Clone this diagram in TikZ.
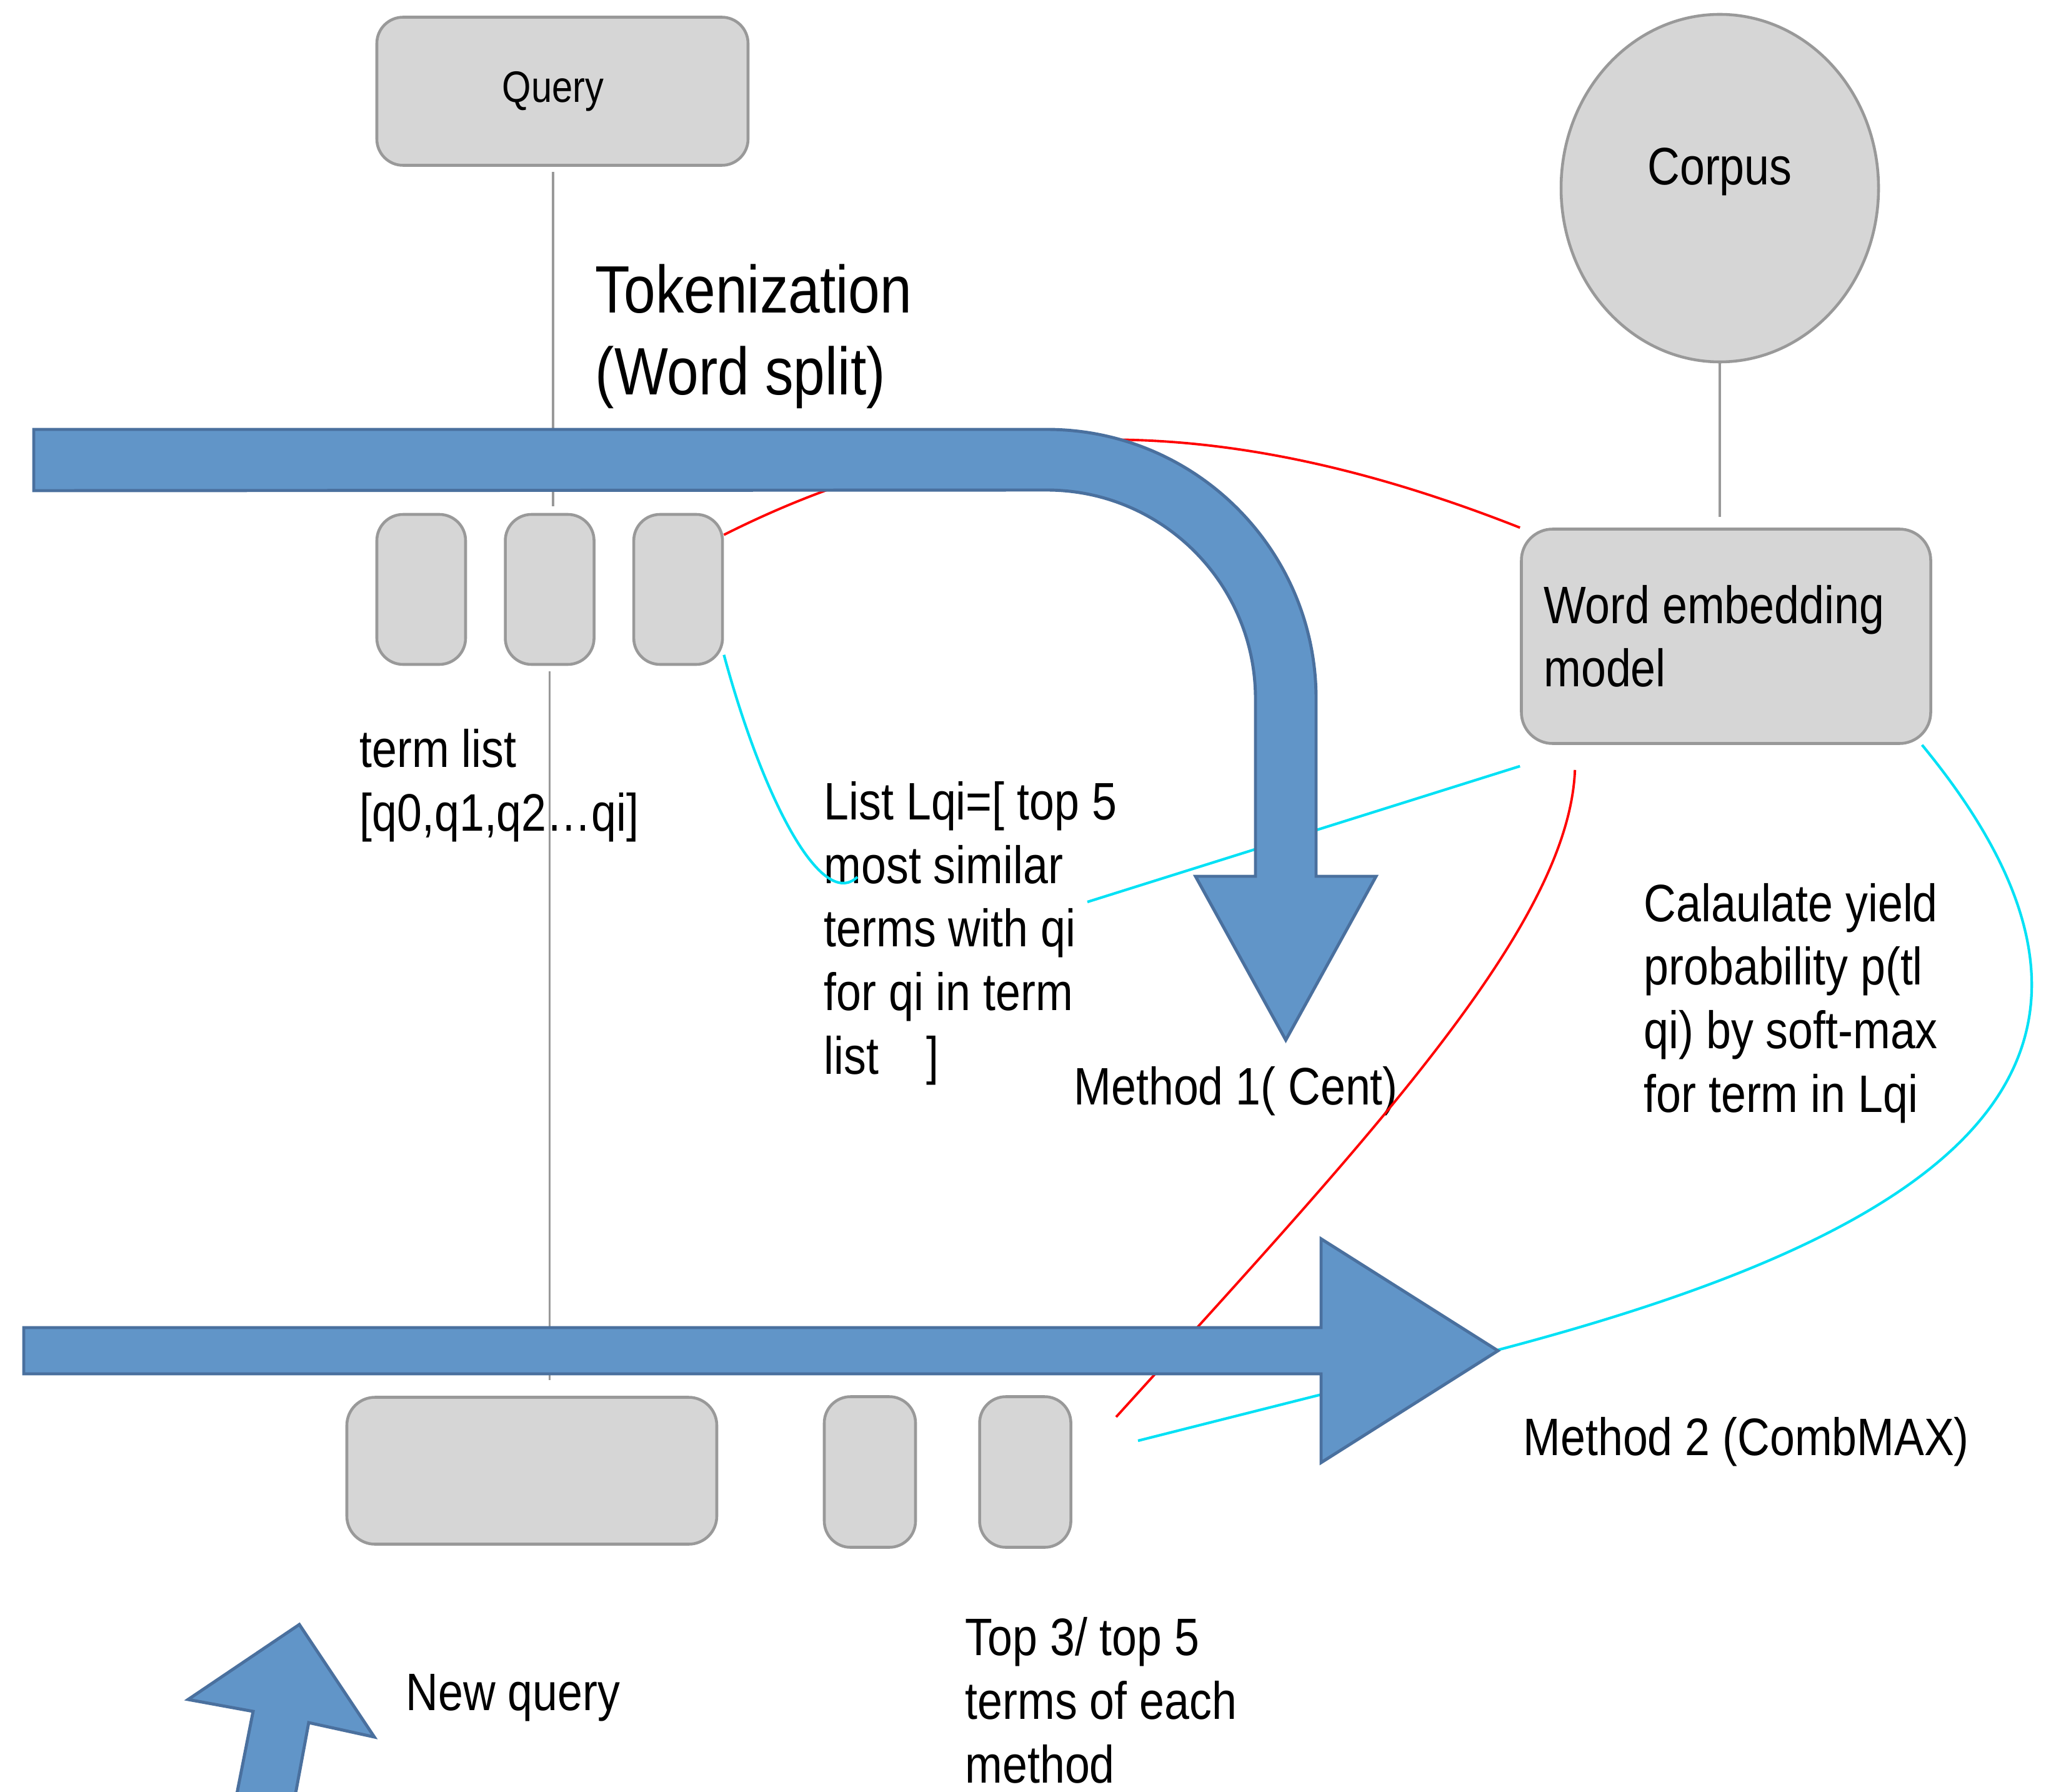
\documentclass[tikz,border=0pt]{standalone}
\usepackage{fontspec}
\setmainfont{Liberation Sans}[FakeStretch=0.85]
\usetikzlibrary{positioning,shapes.geometric}

\definecolor{boxgray}{HTML}{D6D6D6}
\definecolor{edgegray}{HTML}{999999}
\definecolor{arrowblue}{HTML}{6195C8}
\definecolor{arrowedge}{HTML}{4A709E}
\definecolor{linkcyan}{HTML}{00E1F5}

\begin{document}
\begin{tikzpicture}
	\tikzset{
		gbox/.style={draw=edgegray,fill=boxgray,line width=1.3pt,rounded corners=0.42cm,inner sep=0pt},
		term/.style={gbox,minimum width=1.42cm,minimum height=2.4cm},
		txt/.style={font=\fontsize{24}{28.9}\selectfont,inner sep=0pt,anchor=base west,align=left},
		glink/.style={draw=edgegray,line width=0.9pt},
		redlink/.style={draw=red,line width=1.1pt},
		cyanlink/.style={draw=linkcyan,line width=1.2pt},
		bigarrow/.style={fill=arrowblue,draw=arrowedge,line width=1.4pt,line join=miter}
	}
	\useasboundingbox (0,0) rectangle (32.82,-28.67);
	\node[gbox,minimum width=5.94cm,minimum height=2.37cm,font=\fontsize{20}{24}\selectfont] (query) at (9.00,-1.46) {Query\hspace*{0.3cm}};
	\node[gbox,ellipse,minimum width=5.08cm,minimum height=5.56cm,label={[txt,anchor=base,yshift=0.26cm]center:Corpus}] (corpus) at (27.52,-3.01) {};
	\node[txt,font=\fontsize{30.5}{37.4}\selectfont] (tok) at (9.52,-6.32) {Tokenization\\(Word split)};
	\node[term] (t1) at (6.74,-9.43) {};
	\node[term,right=0.59cm of t1] (t2) {};
	\node[term,right=0.59cm of t2] (t3) {};
	\node[gbox,rounded corners=0.5cm,minimum width=6.55cm,minimum height=3.43cm,text width=5.83cm,align=flush left,font=\fontsize{24}{28.9}\selectfont] (wem) at (27.62,-10.18) {Word embedding\\model};
	\node[txt] (terms) at (5.75,-13.29) {term list\\{}[q0,q1,q2…qi]};
	\node[txt] (lqi) at (13.18,-17.18) {List Lqi=[ top 5\\most similar\\terms with qi\\for qi in term\\list\hspace{0.9em}]};
	\node[txt] (calc) at (26.30,-17.79) {Calaulate yield\\probability p(tl\\qi) by soft-max\\for term in Lqi};
	\node[txt] (m1) at (17.18,-17.67) {Method 1( Cent)};
	\node[txt] (m2) at (24.37,-23.28) {Method 2 (CombMAX)};
	\node[gbox,rounded corners=0.45cm,minimum width=5.92cm,minimum height=2.35cm] (nq) at (8.51,-23.53) {};
	\node[term,minimum width=1.46cm,minimum height=2.41cm] (b1) at (13.92,-23.55) {};
	\node[term,minimum width=1.46cm,minimum height=2.41cm,right=0.98cm of b1] (b2) {};
	\node[txt] (top) at (15.44,-28.52) {Top 3/ top 5\\terms of each\\method};
	\node[txt] (newq) at (6.49,-27.36) {New query};

	\coordinate (c1) at (13.72,-14.03);
	\coordinate (c2) at (17.40,-14.43);
	\coordinate (r2) at (17.86,-22.67);
	\coordinate (c3) at (18.21,-23.05);

	\draw[glink,shorten <=0.08cm,shorten >=0.11cm] ([xshift=-0.15cm]query.south) -- ([xshift=-0.15cm]query.south |- t2.north);
	\draw[glink,shorten <=0.09cm,shorten >=0.25cm] (t2.south) -- (t2.south |- nq.north);
	\draw[glink,shorten >=0.17cm] (corpus.south) -- (corpus.south |- wem.north);
	\draw[redlink] (t3.50) .. controls (15.53,-6.57) and (19.45,-6.52) .. (wem.north west);
	\draw[redlink] ([xshift=0.88cm,yshift=-0.4cm]wem.south west) .. controls +(-0.1,-2.5) and (21.88,-18.23) .. (r2);
	\draw[cyanlink] (t3.-55) .. controls (12.20,-12.75) and (13.14,-14.58) .. (c1);
	\draw[cyanlink] (c2) -- ([yshift=-0.34cm]wem.south west);
	\draw[cyanlink] (wem.-29) .. controls (35.14,-17.24) and (30.73,-19.82) .. (23.96,-21.60) -- (c3);

	\draw[bigarrow] (0.54,-6.87) -- (16.75,-6.87) arc[start angle=90,end angle=0,radius=4.31]
		-- (21.06,-14.02) -- (22.02,-14.02) -- (20.575,-16.64) -- (19.13,-14.02) -- (20.09,-14.02)
		-- (20.09,-11.18) arc[start angle=0,end angle=90,radius=3.34] -- (0.54,-7.85) -- cycle;
	\draw[bigarrow] (0.38,-21.24) -- (21.14,-21.24) -- (21.14,-19.82) -- (23.97,-21.61)
		-- (21.14,-23.40) -- (21.14,-21.98) -- (0.38,-21.98) -- cycle;
	\draw[bigarrow] (3.77,-28.80) -- (4.05,-27.38) -- (3.01,-27.19) -- (4.79,-25.99)
		-- (5.99,-27.79) -- (4.94,-27.56) -- (4.71,-28.80) -- cycle;
\end{tikzpicture}
\end{document}
